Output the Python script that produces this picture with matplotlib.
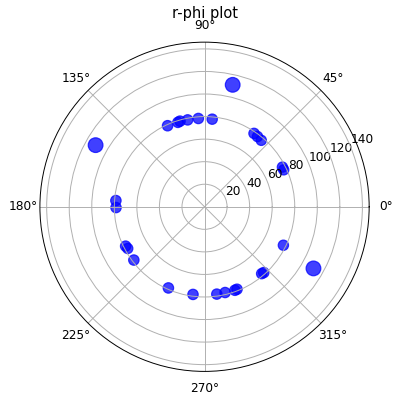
import matplotlib
matplotlib.use('Agg')
import matplotlib.pyplot as plt
import numpy as np

# angles in degrees, radii
phi = [77, 150.5, 330.5,
       114.5, 107.5, 106, 101, 94, 85,
       56, 53, 49.5, 27, 25, 334,
       176, 180.5, 206.5, 208.5, 217,
       246, 262.5, 278, 283.5, 290, 291.5, 310.5, 312]
r = [111, 111, 111,
     79, 78.5, 79, 78.5, 78.5, 78,
     78.5, 78, 77.5, 77.5, 77.5, 77.8,
     78.8, 78.5, 78.2, 77.5, 78.5,
     78.8, 78.4, 78.2, 78.2, 78.8, 78.6, 78, 78.5]

phi = np.radians(phi)
r = np.array(r)

dpi = 87.5
sizes = r**2 / 110 * (100 / dpi)**2

fig = plt.figure(figsize=(395 / dpi, 403 / dpi), dpi=dpi)
ax = fig.add_axes([0.1008, 0.0784, 0.834, 0.817], projection='polar')
ax.scatter(phi, r, s=sizes, c='blue', alpha=0.75)
ax.set_ylim(0, 146)
ax.set_rticks([20, 40, 60, 80, 100, 120, 140])
ax.set_title('r-phi plot', y=1.05)
plt.savefig('out.png', dpi=dpi)
